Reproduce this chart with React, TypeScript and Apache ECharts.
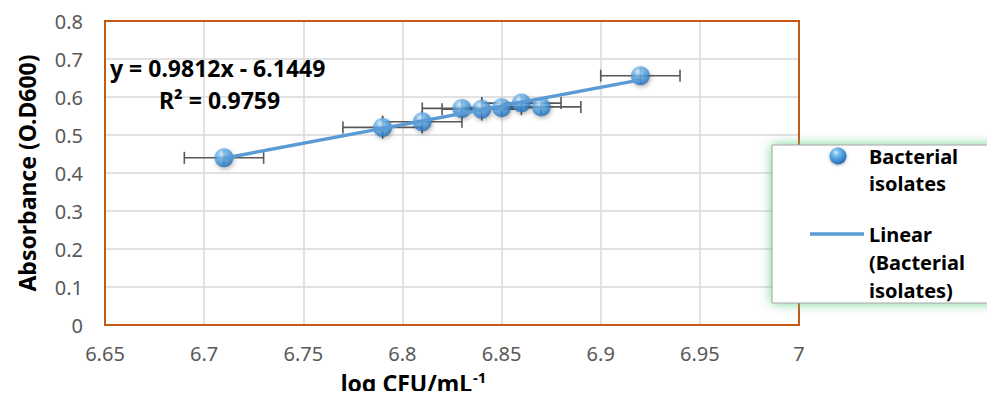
import React, { useEffect, useRef } from "react";
import * as echarts from "echarts";

const xValues = [6.71, 6.79, 6.81, 6.83, 6.84, 6.85, 6.86, 6.87, 6.92];
const yValues = [0.44, 0.52, 0.535, 0.57, 0.568, 0.572, 0.584, 0.574, 0.656];
const xErrors = [0.02, 0.02, 0.02, 0.02, 0.02, 0.02, 0.02, 0.02, 0.02];
const yErrors = [0.02, 0.03, 0.03, 0.02, 0.03, 0.02, 0.02, 0.02, 0.02];
const slope = 0.9812;
const intercept = -6.1449;
const equationText = "y = 0.9812x - 6.1449";
const r2Text = "R² = 0.9759";
const seriesName = "Bacterial isolates";
const xTitle = "log CFU/mL";
const xTitleSup = "-1";
const yTitle = "Absorbance (O.D600)";

const FONT = "Noto Sans";

function bubble() {
  return new echarts.graphic.RadialGradient(0.38, 0.3, 0.75, [
    { offset: 0, color: "#d4ecfd" },
    { offset: 0.3, color: "#6db5ec" },
    { offset: 0.75, color: "#3584cc" },
    { offset: 1, color: "#22609e" },
  ]);
}

export default function App() {
  const ref = useRef<HTMLDivElement>(null);
  useEffect(() => {
    if (!ref.current) return;
    const chart = echarts.init(ref.current, undefined, { renderer: "svg" });
    const xMin = Math.min(...xValues);
    const xMax = Math.max(...xValues);
    const trend = [
      [xMin, slope * xMin + intercept],
      [xMax, slope * xMax + intercept],
    ];
    const errData = xValues.map((x, i) => [x, yValues[i], xErrors[i], yErrors[i]]);
    const scatterData = xValues.map((x, i) => [x, yValues[i]]);

    const errColor = "#595959";
    const gridL = 105, gridT = 21, gridR = 196, gridB = 74;
    chart.setOption({
      animation: false,
      backgroundColor: "#ffffff",
      grid: {
        left: gridL,
        top: gridT,
        right: gridR,
        bottom: gridB,
        show: false,
      },
      xAxis: {
        type: "value",
        min: 6.65,
        max: 7,
        interval: 0.05,
        axisLine: { show: false },
        axisTick: { show: false },
        splitLine: { show: true, lineStyle: { color: "#d9d9d9", width: 1.5 } },
        axisLabel: { color: "#595959", fontSize: 20, fontFamily: FONT, margin: 18 },
      },
      yAxis: {
        type: "value",
        min: 0,
        max: 0.8,
        interval: 0.1,
        axisLine: { show: false },
        axisTick: { show: false },
        splitLine: { show: true, lineStyle: { color: "#d9d9d9", width: 1.5 } },
        axisLabel: { color: "#595959", fontSize: 20, fontFamily: FONT, margin: 22 },
      },
      series: [
        {
          type: "custom",
          name: "errors",
          z: 2,
          data: errData,
          renderItem: (params: any, api: any) => {
            const x = api.value(0);
            const y = api.value(1);
            const dx = api.value(2);
            const dy = api.value(3);
            const l = api.coord([x - dx, y]);
            const r = api.coord([x + dx, y]);
            const t = api.coord([x, y + dy]);
            const b = api.coord([x, y - dy]);
            const cap = 6;
            const style = { stroke: errColor, lineWidth: 1.6 };
            return {
              type: "group",
              children: [
                { type: "line", shape: { x1: l[0], y1: l[1], x2: r[0], y2: r[1] }, style },
                { type: "line", shape: { x1: l[0], y1: l[1] - cap, x2: l[0], y2: l[1] + cap }, style },
                { type: "line", shape: { x1: r[0], y1: r[1] - cap, x2: r[0], y2: r[1] + cap }, style },
                { type: "line", shape: { x1: t[0], y1: t[1], x2: b[0], y2: b[1] }, style },
              ],
            };
          },
        },
        {
          type: "scatter",
          name: seriesName,
          z: 3,
          data: scatterData,
          symbol: "circle",
          symbolSize: 19,
          itemStyle: {
            color: bubble(),
            shadowBlur: 4,
            shadowOffsetX: 1,
            shadowOffsetY: 2,
            shadowColor: "rgba(0,0,0,0.35)",
          },
        },
        {
          type: "line",
          name: "Linear (" + seriesName + ")",
          z: 4,
          data: trend,
          symbol: "none",
          lineStyle: { color: "#5b9bd5", width: 3.5 },
        },
      ],
      graphic: [
        {
          type: "rect",
          z: 5,
          silent: true,
          shape: { x: gridL, y: gridT, width: 995 - gridL - gridR, height: 399 - gridT - gridB },
          style: { fill: "none", stroke: "#C55A11", lineWidth: 2 },
        },
        {
          type: "text",
          x: 110,
          y: 68,
          z: 10,
          style: {
            text: equationText,
            font: `bold 23px "${FONT}"`,
            fill: "#000000",
            align: "left",
            verticalAlign: "middle",
          },
        },
        {
          type: "text",
          x: 159,
          y: 100,
          z: 10,
          style: {
            text: r2Text,
            font: `bold 23px "${FONT}"`,
            fill: "#000000",
            align: "left",
            verticalAlign: "middle",
          },
        },
        {
          type: "text",
          x: 27,
          y: 173,
          rotation: Math.PI / 2,
          z: 10,
          style: {
            text: yTitle,
            font: `bold 23px "${FONT}"`,
            fill: "#000000",
            align: "center",
            verticalAlign: "middle",
          },
        },
        {
          type: "text",
          x: 472,
          y: 383,
          z: 10,
          style: {
            text: xTitle,
            font: `bold 23px "${FONT}"`,
            fill: "#000000",
            align: "right",
            verticalAlign: "middle",
          },
        },
        {
          type: "text",
          x: 473,
          y: 377,
          z: 10,
          style: {
            text: xTitleSup,
            font: `bold 15px "${FONT}"`,
            fill: "#000000",
            align: "left",
            verticalAlign: "middle",
          },
        },
        {
          type: "rect",
          z: 20,
          shape: { x: 772, y: 145, width: 240, height: 158 },
          style: {
            fill: "#ffffff",
            stroke: "#a6a6a6",
            lineWidth: 1,
            shadowBlur: 12,
            shadowColor: "rgba(80,200,120,0.8)",
          },
        },
        {
          type: "circle",
          z: 21,
          shape: { cx: 838, cy: 156, r: 8.5 },
          style: { fill: bubble(), shadowBlur: 3, shadowOffsetY: 1, shadowColor: "rgba(0,0,0,0.35)" },
        },
        {
          type: "line",
          z: 21,
          shape: { x1: 810, y1: 234, x2: 864, y2: 234 },
          style: { stroke: "#5b9bd5", lineWidth: 3.5 },
        },
        ...[
          ["Bacterial", 156],
          ["isolates", 183],
          ["Linear", 234],
          ["(Bacterial", 262],
          ["isolates)", 290],
        ].map(([t, y]) => ({
          type: "text",
          z: 22,
          x: 869,
          y: y as number,
          style: {
            text: t as string,
            font: `bold 20px "${FONT}"`,
            fill: "#000000",
            align: "left",
            verticalAlign: "middle",
          },
        })),
      ],
    });
    return () => chart.dispose();
  }, []);
  return <div ref={ref} style={{ width: 995, height: 399, margin: -8 }} />;
}
